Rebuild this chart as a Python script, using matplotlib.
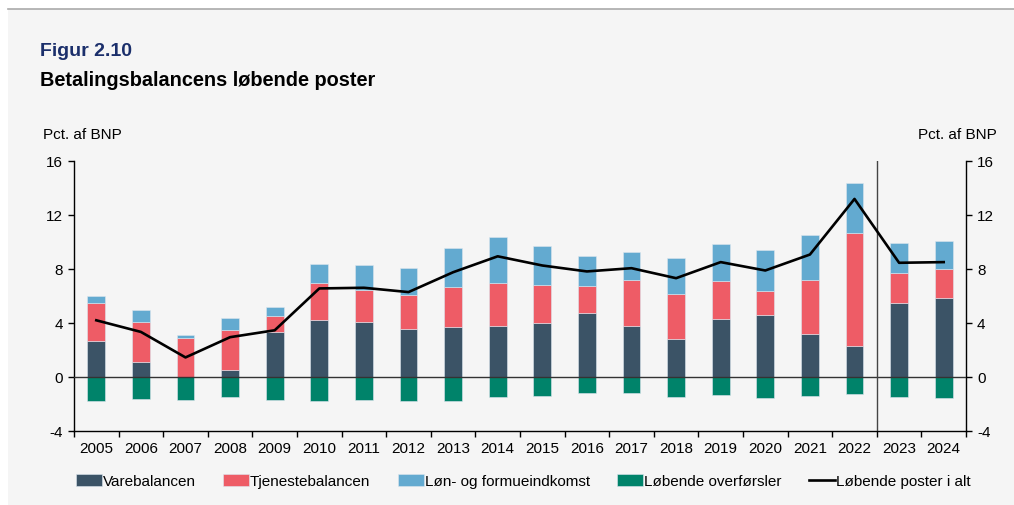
import matplotlib
matplotlib.use("Agg")
import matplotlib.pyplot as plt
import numpy as np
from matplotlib.patches import Rectangle
from matplotlib.lines import Line2D

plt.rcParams['font.family'] = ['Liberation Sans', 'DejaVu Sans']

years = [str(y) for y in range(2005, 2025)]
varebalancen = [2.70, 1.13, 0.00, 0.52, 3.32, 4.20, 4.08, 3.56, 3.69, 3.76,
                3.99, 4.71, 3.77, 2.84, 4.27, 4.56, 3.18, 2.27, 5.47, 5.82]
tjenestebalancen = [2.78, 2.95, 2.90, 2.99, 1.20, 2.75, 2.38, 2.48, 2.94, 3.19,
                    2.84, 2.00, 3.43, 3.32, 2.83, 1.80, 3.99, 8.38, 2.27, 2.17]
loen_formue = [0.49, 0.88, 0.22, 0.89, 0.64, 1.40, 1.82, 2.02, 2.90, 3.42,
               2.88, 2.29, 2.05, 2.62, 2.76, 3.08, 3.33, 3.75, 2.22, 2.09]
overfoersler = [-1.77, -1.62, -1.67, -1.47, -1.67, -1.79, -1.70, -1.77, -1.77, -1.45,
                -1.41, -1.16, -1.18, -1.45, -1.33, -1.53, -1.43, -1.23, -1.48, -1.55]
poster_i_alt = [4.20, 3.34, 1.45, 2.95, 3.46, 6.56, 6.61, 6.29, 7.76, 8.94,
                8.26, 7.82, 8.06, 7.32, 8.51, 7.89, 9.07, 13.19, 8.46, 8.51]
yticks = [-4, 0, 4, 8, 12, 16]

c_vare = '#3b5366'
c_tj = '#ee5c66'
c_loen = '#63aad0'
c_over = '#00836a'
bg = '#f5f5f5'

W, H = 1014, 506
fig = plt.figure(figsize=(W / 100, H / 100), dpi=100, facecolor='white')
fig.patches.append(Rectangle((8 / W, 0), 1 - 8 / W, 1 - 10 / H, transform=fig.transFigure,
                             facecolor=bg, edgecolor='none', zorder=-10))
fig.lines.append(Line2D([8 / W, 1], [1 - 10 / H, 1 - 10 / H], transform=fig.transFigure,
                        color='#aaaaaa', lw=1.2))

ax = fig.add_axes([74 / W, 1 - 432 / H, (966 - 74) / W, (432 - 162) / H])
ax.set_facecolor('none')

x = np.arange(len(years))
v = np.array(varebalancen)
t = np.array(tjenestebalancen)
l = np.array(loen_formue)
bw = 0.40
ec = dict(edgecolor='#dde6ee', linewidth=0.4)
ax.bar(x, v, bw, color=c_vare, label='Varebalancen', zorder=2, **ec)
ax.bar(x, t, bw, bottom=v, color=c_tj, label='Tjenestebalancen', zorder=2, **ec)
ax.bar(x, l, bw, bottom=v + t, color=c_loen, label='Løn- og formueindkomst', zorder=2, **ec)
ax.bar(x, overfoersler, bw, color=c_over, label='Løbende overførsler', zorder=2, **ec)
ax.plot(x, poster_i_alt, color='black', lw=1.9, label='Løbende poster i alt', zorder=4)

ax.axhline(0, color='#333333', lw=1.0, zorder=3)
ax.axvline(17.5, color='#444444', lw=1.0, zorder=3)

ax.set_xlim(-0.5, len(years) - 0.5)
ax.set_ylim(-4, 16)
ax.set_yticks(yticks)
ax.set_yticklabels([str(y) for y in yticks])
ax.tick_params(axis='y', which='both', direction='out', length=4, width=1,
               left=True, right=True, labelleft=True, labelright=True,
               labelsize=11, pad=4)
ax.set_xticks(np.arange(-0.5, len(years), 1.0))
ax.set_xticklabels([])
ax.set_xticks(x, minor=True)
ax.set_xticklabels(years, minor=True)
ax.tick_params(axis='x', which='major', direction='out', length=4, width=1)
ax.tick_params(axis='x', which='minor', length=0, labelsize=11, pad=7)

for s in ['top']:
    ax.spines[s].set_visible(False)
for s in ['left', 'right', 'bottom']:
    ax.spines[s].set_color('black')
    ax.spines[s].set_linewidth(1.0)

fig.text(40 / W, 1 - 52 / H, 'Figur 2.10', color='#1b2f6b', fontsize=14,
         fontweight='bold', va='center', ha='left')
fig.text(40 / W, 1 - 81 / H, 'Betalingsbalancens løbende poster', color='black',
         fontsize=14.3, fontweight='bold', va='center', ha='left')
fig.text(43 / W, 1 - 135 / H, 'Pct. af BNP', fontsize=11, va='center', ha='left')
fig.text(997 / W, 1 - 135 / H, 'Pct. af BNP', fontsize=11, va='center', ha='right')

handles, labels = ax.get_legend_handles_labels()
order = [1, 2, 3, 4, 0]
handles = [handles[i] for i in order]
labels = [labels[i] for i in order]
fig.legend(handles, labels, loc='center left', bbox_to_anchor=(70 / W, 1 - 482 / H),
           ncol=5, frameon=False, fontsize=11, handlelength=1.7, handleheight=0.8,
           handletextpad=0.05, columnspacing=1.8, borderaxespad=0)

fig.savefig('out.png', dpi=100, facecolor='white')
